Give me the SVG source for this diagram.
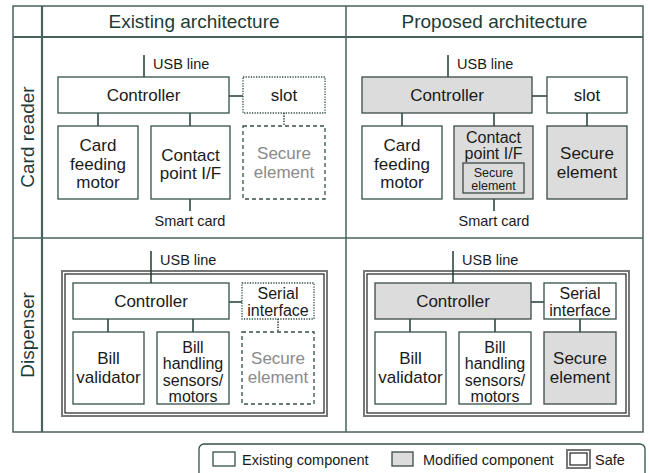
<svg xmlns="http://www.w3.org/2000/svg" width="650" height="473" viewBox="0 0 650 473">
<style>
text{font-family:"Liberation Sans",Arial,sans-serif;fill:#1a1a1a}
.hd{font-size:19px;fill:#1d3b38;text-anchor:middle}
.t{font-size:17px;text-anchor:middle}
.t2{font-size:16px;text-anchor:middle}
.s{font-size:14.5px}
.sm{font-size:14.5px;text-anchor:middle}
.in{font-size:12.5px;text-anchor:middle}
.g{fill:#8a8a8a}
.grid{stroke:#48625d;fill:none}
.b{fill:#fff;stroke:#34504b;stroke-width:1.3}
.m{fill:#dcdcdc;stroke:#3a4a48;stroke-width:1.3}
.dot{fill:#fff;stroke:#34504b;stroke-width:1.3;stroke-dasharray:1.3 1.3}
.dash{fill:#fff;stroke:#34504b;stroke-width:1.3;stroke-dasharray:4 3}
.c{stroke:#1f3a36;stroke-width:1.5;fill:none}
.cd{stroke:#1f3a36;stroke-width:1.5;fill:none;stroke-dasharray:1.3 1.3}
.so{fill:#fff;stroke:#777;stroke-width:2}
.si{fill:none;stroke:#222;stroke-width:1.2}
</style>
<rect width="650" height="473" fill="#fff"/>
<g id="table">
<rect class="grid" x="13" y="6" width="630" height="426" stroke-width="1.5"/>
<line class="grid" x1="13" y1="37" x2="643" y2="37" stroke-width="2.2"/>
<line class="grid" x1="13" y1="238" x2="643" y2="238" stroke-width="1.5"/>
<line class="grid" x1="42" y1="6" x2="42" y2="432" stroke-width="2.2"/>
<line class="grid" x1="346" y1="6" x2="346" y2="432" stroke-width="1.5"/>
<text class="hd" x="194" y="28">Existing architecture</text>
<text class="hd" x="494.5" y="28">Proposed architecture</text>
<text class="hd" transform="translate(34,137) rotate(-90)">Card reader</text>
<text class="hd" transform="translate(34,335) rotate(-90)">Dispenser</text>
</g>
<g id="safes">
<rect class="so" x="62" y="271" width="265" height="145"/>
<rect class="si" x="65" y="274" width="259" height="139"/>
<rect class="so" x="364" y="271" width="265" height="145"/>
<rect class="si" x="367" y="274" width="259" height="139"/>
</g>
<g id="connectors">
<line class="c" x1="144" y1="55" x2="144" y2="77"/>
<line class="c" x1="229" y1="96" x2="243" y2="96"/>
<line class="cd" x1="284" y1="113" x2="284" y2="126"/>
<line class="c" x1="98" y1="113" x2="98" y2="126"/>
<line class="c" x1="190" y1="113" x2="190" y2="126"/>
<line class="c" x1="190" y1="199" x2="190" y2="211"/>
<line class="c" x1="448" y1="55" x2="448" y2="77"/>
<line class="c" x1="532" y1="96" x2="547" y2="96"/>
<line class="c" x1="587" y1="113" x2="587" y2="126"/>
<line class="c" x1="402" y1="113" x2="402" y2="126"/>
<line class="c" x1="494" y1="113" x2="494" y2="126"/>
<line class="c" x1="494" y1="199" x2="494" y2="211"/>
<line class="c" x1="151" y1="251" x2="151" y2="283"/>
<line class="c" x1="229" y1="302" x2="242" y2="302"/>
<line class="cd" x1="278" y1="319" x2="278" y2="332"/>
<line class="c" x1="108" y1="319" x2="108" y2="332"/>
<line class="c" x1="193" y1="319" x2="193" y2="332"/>
<line class="c" x1="453" y1="251" x2="453" y2="283"/>
<line class="c" x1="531" y1="302" x2="544" y2="302"/>
<line class="c" x1="580" y1="319" x2="580" y2="332"/>
<line class="c" x1="410" y1="319" x2="410" y2="332"/>
<line class="c" x1="495" y1="319" x2="495" y2="332"/>
</g>
<g id="labels">
<text class="s" x="153" y="69">USB line</text>
<text class="sm" x="190" y="226">Smart card</text>
<text class="s" x="457" y="69">USB line</text>
<text class="sm" x="494" y="226">Smart card</text>
<text class="s" x="160" y="265">USB line</text>
<text class="s" x="462" y="265">USB line</text>
</g>
<g id="cr-ex-controller"><rect class="b" x="58" y="77" width="171" height="36"/><text class="t" x="143.5" y="101">Controller</text></g>
<g id="cr-ex-slot"><rect class="dot" x="243" y="77" width="82" height="36"/><text class="t" x="284" y="101">slot</text></g>
<g id="cr-ex-se"><rect class="dash" x="243" y="126" width="82" height="73"/><text class="t g" x="284" y="159">Secure</text><text class="t g" x="284" y="178">element</text></g>
<g id="cr-ex-motor"><rect class="b" x="58" y="126" width="80" height="73"/><text class="t" x="98" y="151">Card</text><text class="t" x="98" y="169.5">feeding</text><text class="t" x="98" y="188">motor</text></g>
<g id="cr-ex-contact"><rect class="b" x="151" y="126" width="79" height="73"/><text class="t" x="190.5" y="161">Contact</text><text class="t" x="190.5" y="179">point I/F</text></g>
<g id="cr-pr-controller"><rect class="m" x="362" y="77" width="170" height="36"/><text class="t" x="447" y="101">Controller</text></g>
<g id="cr-pr-slot"><rect class="b" x="547" y="77" width="80" height="36"/><text class="t" x="587" y="101">slot</text></g>
<g id="cr-pr-se"><rect class="m" x="547" y="126" width="80" height="73"/><text class="t" x="587" y="159">Secure</text><text class="t" x="587" y="178">element</text></g>
<g id="cr-pr-motor"><rect class="b" x="362" y="126" width="80" height="73"/><text class="t" x="402" y="151">Card</text><text class="t" x="402" y="169.5">feeding</text><text class="t" x="402" y="188">motor</text></g>
<g id="cr-pr-contact"><rect class="m" x="454" y="126" width="79" height="73"/><text class="t2" x="493.5" y="142.5">Contact</text><text class="t2" x="493.5" y="159">point I/F</text>
<rect class="m" x="463" y="163" width="61" height="30"/><text class="in" x="493.5" y="176.5">Secure</text><text class="in" x="493.5" y="190">element</text></g>
<g id="d-ex-controller"><rect class="b" x="73" y="283" width="156" height="36"/><text class="t" x="151" y="307">Controller</text></g>
<g id="d-ex-serial"><rect class="dot" x="242" y="283" width="72" height="36"/><text class="t2" x="278" y="299">Serial</text><text class="t2" x="278" y="316">interface</text></g>
<g id="d-ex-se"><rect class="dash" x="242" y="332" width="72" height="72"/><text class="t g" x="278" y="364">Secure</text><text class="t g" x="278" y="383">element</text></g>
<g id="d-ex-validator"><rect class="b" x="73" y="332" width="71" height="72"/><text class="t" x="108.5" y="364">Bill</text><text class="t" x="108.5" y="383">validator</text></g>
<g id="d-ex-handling"><rect class="b" x="157" y="332" width="72" height="72"/><text class="t2" x="193" y="353">Bill</text><text class="t2" x="193" y="369">handling</text><text class="t2" x="193" y="385.5">sensors/</text><text class="t2" x="193" y="402">motors</text></g>
<g id="d-pr-controller"><rect class="m" x="375" y="283" width="156" height="36"/><text class="t" x="453" y="307">Controller</text></g>
<g id="d-pr-serial"><rect class="b" x="544" y="283" width="72" height="36"/><text class="t2" x="580" y="299">Serial</text><text class="t2" x="580" y="316">interface</text></g>
<g id="d-pr-se"><rect class="m" x="544" y="332" width="72" height="72"/><text class="t" x="580" y="364">Secure</text><text class="t" x="580" y="383">element</text></g>
<g id="d-pr-validator"><rect class="b" x="375" y="332" width="71" height="72"/><text class="t" x="410.5" y="364">Bill</text><text class="t" x="410.5" y="383">validator</text></g>
<g id="d-pr-handling"><rect class="b" x="459" y="332" width="72" height="72"/><text class="t2" x="495" y="353">Bill</text><text class="t2" x="495" y="369">handling</text><text class="t2" x="495" y="385.5">sensors/</text><text class="t2" x="495" y="402">motors</text></g>
<g id="legend">
<rect x="199" y="444" width="446" height="40" rx="5" fill="#fff" stroke="#34504b" stroke-width="1.3"/>
<rect class="b" x="213" y="452" width="22" height="14"/>
<text class="s" x="242" y="465">Existing component</text>
<rect class="m" x="392" y="452" width="21" height="14"/>
<text class="s" x="423" y="465">Modified component</text>
<rect class="so" x="567" y="450" width="23" height="18"/>
<rect class="si" x="570" y="453" width="17" height="12"/>
<text class="s" x="595" y="465">Safe</text>
</g>
</svg>
